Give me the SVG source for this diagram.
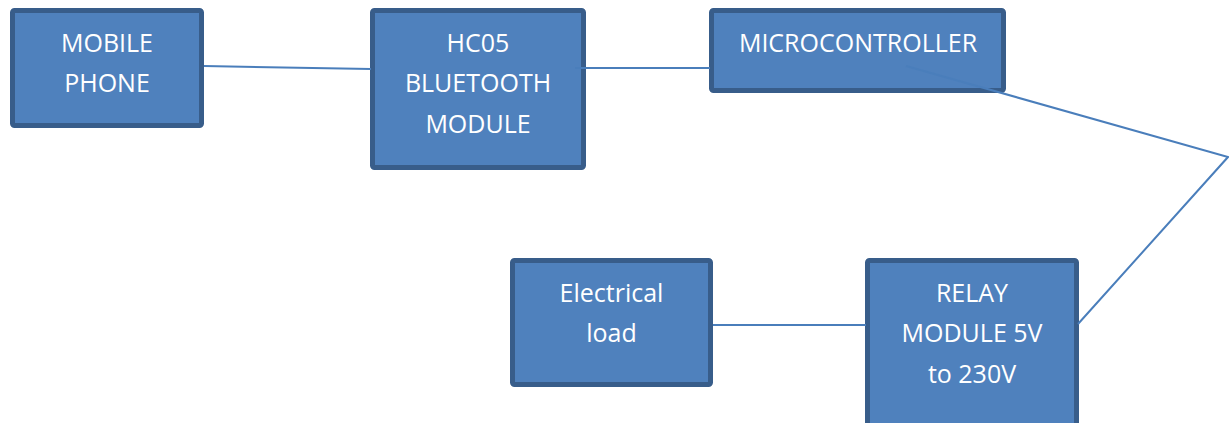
<svg xmlns="http://www.w3.org/2000/svg" width="1229" height="423" viewBox="0 0 1229 423">
<style>
.box{fill:#4f81bd;stroke:#385d8a;stroke-width:5}
.t{font-family:"Open Sans","Liberation Sans",sans-serif;font-size:25px;fill:#ffffff;text-anchor:middle}
.c{fill:none;stroke:#4a7ebb;stroke-width:2}
</style>
<rect width="1229" height="423" fill="#ffffff"/>
<g id="mobile">
<rect class="box" x="12.5" y="10.5" width="189" height="115" rx="2"/>
<text class="t" x="107" y="52">MOBILE</text>
<text class="t" x="107" y="92">PHONE</text>
</g>
<g id="hc05">
<rect class="box" x="372.5" y="10.5" width="211" height="157" rx="2"/>
<text class="t" x="478" y="52">HC05</text>
<text class="t" x="478" y="92">BLUETOOTH</text>
<text class="t" x="478" y="133">MODULE</text>
</g>
<g id="micro">
<rect class="box" x="711.5" y="10.5" width="292" height="80" rx="2"/>
<text class="t" x="858" y="52">MICROCONTROLLER</text>
</g>
<g id="load">
<rect class="box" x="512.5" y="260.5" width="198" height="124" rx="2"/>
<text class="t" x="611.5" y="302">Electrical</text>
<text class="t" x="611.5" y="342">load</text>
</g>
<g id="relay">
<rect class="box" x="867.5" y="260.5" width="209" height="170" rx="2"/>
<text class="t" x="972" y="302">RELAY</text>
<text class="t" x="972" y="342">MODULE 5V</text>
<text class="t" x="972" y="383">to 230V</text>
</g>
<g id="connectors">
<line class="c" x1="204" y1="66" x2="371" y2="69"/>
<line class="c" x1="575" y1="68" x2="710" y2="68"/>
<polyline class="c" points="906,66 1228,157 1078,324"/>
<line class="c" x1="713" y1="325" x2="866" y2="325"/>
</g>
</svg>
